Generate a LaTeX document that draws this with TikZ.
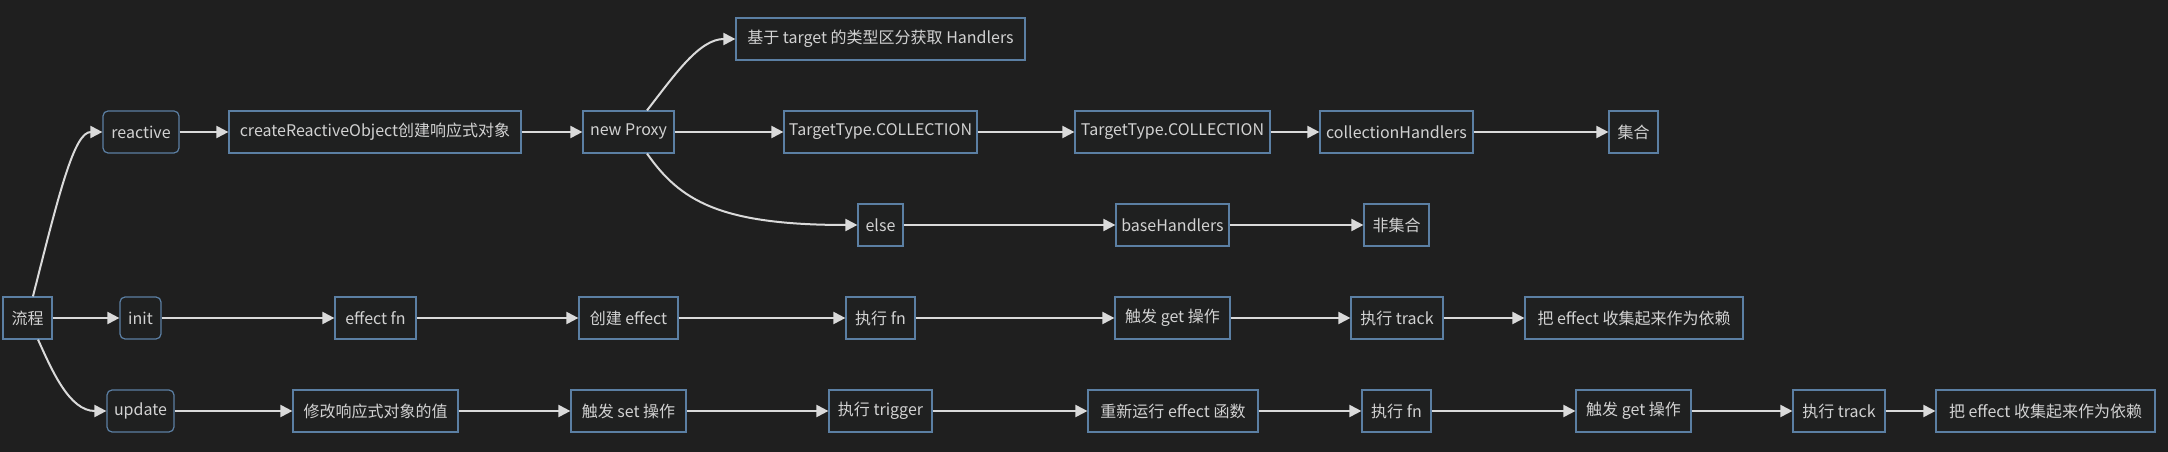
\documentclass[tikz,border=0pt]{standalone}
\usepackage{fontspec}
\newfontfamily\cjk{Noto Sans CJK SC}
\usetikzlibrary{arrows.meta}

\definecolor{bgdark}{HTML}{1F1F1F}
\definecolor{boxfill}{HTML}{1F2020}
\definecolor{boxline}{HTML}{5B7FA3}
\definecolor{txtgrey}{HTML}{D2D2D2}
\definecolor{arrgrey}{HTML}{DADADA}

\tikzset{
	box/.style={draw=boxline, fill=boxfill, line width=0.9pt, text=txtgrey,
		font=\cjk\fontsize{12}{14}\selectfont, minimum height=31.5pt, inner sep=0pt},
	rbox/.style={box, rounded corners=3.75pt},
	wd/.style={minimum width=#1*0.75pt},
	flow/.style={draw=arrgrey, line width=1.5pt, -{Triangle[length=9pt,width=9pt]}},
}

\begin{document}
\begin{tikzpicture}[x=0.75pt,y=-0.75pt]
		
		% Hátter
		\fill[bgdark] (0,0) rectangle (2168,452);
		\useasboundingbox (0,0) rectangle (2168,452);
		
		% Gyökér és ágak
		\node[box, wd=49] (liu) at (27.5,318) {流程};
		\node[rbox, wd=76] (reac) at (141,132) {reactive};
		\node[rbox, wd=41] (init) at (140.5,318) {init};
		\node[rbox, wd=67] (upd) at (140.5,411) {update};
		
		% reactive sor
		\node[box, wd=292] (create) at (375,132) {createReactiveObject创建响应式对象};
		\node[box, wd=91] (proxy) at (628.5,132) {new Proxy};
		\node[box, wd=289] (jiyu) at (880.5,39) {基于 target 的类型区分获取 Handlers};
		\node[box, wd=193] (ttcA) at (880.5,132) {TargetType.COLLECTION};
		\node[box, wd=195] (ttcB) at (1172.5,132) {TargetType.COLLECTION};
		\node[box, wd=153] (collh) at (1396.5,132) {collectionHandlers};
		\node[box, wd=49] (jihe) at (1633.5,132) {集合};
		
		% else sor
		\node[box, wd=45] (else) at (880.5,225) {else};
		\node[box, wd=113] (baseh) at (1172.5,225) {baseHandlers};
		\node[box, wd=65] (feijihe) at (1396.5,225) {非集合};
		
		% init sor
		\node[box, wd=81] (efn) at (375.5,318) {effect fn};
		\node[box, wd=99] (cjeff) at (628.5,318) {创建 effect};
		\node[box, wd=69] (zxfn) at (880.5,318) {执行 fn};
		\node[box, wd=115] (cfget) at (1172.5,318) {触发 get 操作};
		\node[box, wd=92] (zxtrack) at (1397,318) {执行 track};
		\node[box, wd=218] (baeff) at (1634,318) {把 effect 收集起来作为依赖};
		
		% update sor
		\node[box, wd=165] (xiugai) at (375.5,411) {修改响应式对象的值};
		\node[box, wd=115] (cfset) at (628.5,411) {触发 set 操作};
		\node[box, wd=103] (zxtrig) at (880.5,411) {执行 trigger};
		\node[box, wd=170] (cxyx) at (1173,411) {重新运行 effect 函数};
		\node[box, wd=69] (zxfnB) at (1396.5,411) {执行 fn};
		\node[box, wd=115] (cfgetB) at (1633.5,411) {触发 get 操作};
		\node[box, wd=92] (zxtrackB) at (1839,411) {执行 track};
		\node[box, wd=219] (baeffB) at (2045.5,411) {把 effect 收集起来作为依赖};
		
		% Ívelt nyilak
		\draw[flow] ([xshift=4.1pt]liu.north) .. controls +(27,-107) and +(-28,0) .. (reac.west);
		\draw[flow] ([xshift=7.9pt]liu.south) .. controls +(14,31) and +(-37,0) .. (upd.west);
		\draw[flow] ([xshift=13.9pt]proxy.north) .. controls +(28,-36) and +(-36,0) .. (jiyu.west);
		\draw[flow] ([xshift=13.9pt]proxy.south) .. controls +(33,47) and +(-138,0) .. (else.west);
		
		% Egyenes nyilak
		\draw[flow] (liu) -- (init);
		\draw[flow] (reac) -- (create);
		\draw[flow] (create) -- (proxy);
		\draw[flow] (proxy) -- (ttcA);
		\draw[flow] (ttcA) -- (ttcB);
		\draw[flow] (ttcB) -- (collh);
		\draw[flow] (collh) -- (jihe);
		
		\draw[flow] (else) -- (baseh);
		\draw[flow] (baseh) -- (feijihe);
		
		\draw[flow] (init) -- (efn);
		\draw[flow] (efn) -- (cjeff);
		\draw[flow] (cjeff) -- (zxfn);
		\draw[flow] (zxfn) -- (cfget);
		\draw[flow] (cfget) -- (zxtrack);
		\draw[flow] (zxtrack) -- (baeff);
		
		\draw[flow] (upd) -- (xiugai);
		\draw[flow] (xiugai) -- (cfset);
		\draw[flow] (cfset) -- (zxtrig);
		\draw[flow] (zxtrig) -- (cxyx);
		\draw[flow] (cxyx) -- (zxfnB);
		\draw[flow] (zxfnB) -- (cfgetB);
		\draw[flow] (cfgetB) -- (zxtrackB);
		\draw[flow] (zxtrackB) -- (baeffB);
		
	\end{tikzpicture}
\end{document}
